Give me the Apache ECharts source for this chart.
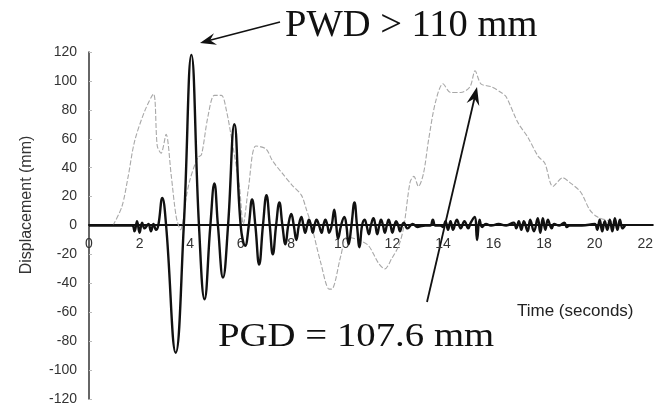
<!DOCTYPE html>
<html>
<head>
<meta charset="utf-8">
<script src="https://cdn.jsdelivr.net/npm/echarts@6/dist/echarts.min.js"></script>
<style>
html,body{margin:0;padding:0;background:#fff;}
#chart{width:656px;height:406px;}
</style>
</head>
<body>
<div id="chart"></div>
<script>
// PWD (thick black) – time (s) and displacement (mm)
const pwdTime = [0, 1.7, 1.8, 1.9, 2.0, 2.1, 2.2, 2.35, 2.45, 2.55, 2.65, 2.74, 2.9, 3.05, 3.43, 3.75, 4.05, 4.35, 4.57, 4.8, 4.96, 5.1, 5.3, 5.5, 5.75, 6.0, 6.18, 6.32, 6.45, 6.58, 6.73, 6.88, 7.02, 7.15, 7.27, 7.4, 7.53, 7.65, 7.77, 7.88, 8.0, 8.1, 8.2, 8.3, 8.4, 8.48, 8.55, 8.63, 8.7, 8.78, 8.85, 8.92, 9.0, 9.1, 9.2, 9.27, 9.35, 9.43, 9.5, 9.6, 9.7, 9.78, 9.85, 9.97, 10.1, 10.18, 10.27, 10.38, 10.5, 10.6, 10.7, 10.8, 10.9, 10.98, 11.07, 11.15, 11.25, 11.33, 11.4, 11.48, 11.55, 11.63, 11.7, 11.78, 11.85, 11.93, 12.0, 12.08, 12.15, 12.23, 12.3, 12.38, 12.45, 12.6, 12.8, 13.0, 13.3, 13.5, 13.6, 13.7, 13.9, 14.0, 14.1, 14.2, 14.3, 14.4, 14.55, 14.7, 14.85, 15.0, 15.1, 15.25, 15.35, 15.45, 15.55, 15.7, 15.9, 16.2, 16.5, 16.8, 16.9, 17.0, 17.1, 17.2, 17.35, 17.45, 17.6, 17.75, 17.85, 17.95, 18.05, 18.15, 18.3, 18.4, 18.6, 18.8, 18.9, 19.0, 19.5, 20.0, 20.1, 20.2, 20.3, 20.4, 20.5, 20.6, 20.7, 20.8, 20.9, 21.0, 21.1, 21.2];
const pwdDisp = [0, 0, -4, 3, -5, 2, -2, 1, -4, 1, -3, 0, 19, 0, -88, 0, 118, 0, -51, 0, 29, 0, -36, 0, 70, 0, -14, 0, 18, 0, -27, 0, 21, 0, -20, 0, 16, 0, -13, 0, 8, 0, -10, 0, 6, 0, -5, 0, 4, 0, -5, 0, 4, 0, -5, 0, 4, 0, -5, 0, 11, 0, -9, 0, 6, 0, -13, 0, 16, 0, -15, 0, 4, 0, -6, 0, 5, 0, -6, 0, 4, 0, -5, 0, 4, 0, -5, 0, 3, 0, -4, 0, 2, -2, 1, -1, 0, 0, 4, 0, 0, -1, 3, -3, 3, -3, 4, -2, 3, -2, 2, 6, -10, 4, -1, 1, 0, 1, 0, 2, -2, 3, -3, 3, -4, 4, -4, 5, -5, 5, -3, 4, -2, 1, 0, 2, -1, 0, 0, 1, -3, 4, -4, 3, -3, 4, -4, 5, -3, 4, -2, 0];

// PGD (thin gray) – time (s) and displacement (mm)
const pgdTime = [0.95, 1.3, 1.55, 1.8, 2.2, 2.55, 2.7, 2.85, 3.05, 3.25, 3.45, 3.62, 3.85, 4.0, 4.3, 4.45, 4.7, 4.96, 5.24, 5.43, 5.67, 5.95, 6.1, 6.3, 6.6, 7.0, 7.25, 7.65, 8.03, 8.4, 8.6, 8.8, 9.17, 9.5, 9.6, 9.96, 10.2, 10.67, 11.06, 11.45, 11.7, 11.97, 12.25, 12.45, 12.7, 12.85, 13.03, 13.23, 13.43, 13.7, 14.0, 14.3, 14.7, 15.07, 15.27, 15.5, 15.9, 16.3, 16.5, 16.97, 17.36, 17.76, 18.03, 18.35, 18.74, 19.0, 19.45, 19.8, 20.1, 20.6, 20.98];
const pgdDisp = [0, 13, 34, 58, 79, 91, 55, 50, 63, 35, 6, -3, 20, 32, 47, 49, 75, 90, 90, 80, 57, 27, 1, 25, 55, 53, 45, 36, 28, 21, 11, 0, -26, -44, -44, -21, -8, -10, -14, -26, -30, -23, -14, -1, 30, 34, 27, 36, 59, 85, 98, 92, 92, 96, 107, 98, 96, 92, 89, 71, 61, 48, 43, 27, 33, 30, 23, 11, 6, 3, 0];

const xTickStep = 2;
const yTickStep = 20;

const pwd = pwdTime.map((t, i) => [t, pwdDisp[i]]);
const pgd = pgdTime.map((t, i) => [t, pgdDisp[i]]);

const chart = echarts.init(document.getElementById('chart'));
const sans = 'Liberation Sans, Arial, sans-serif';
const serif = 'Liberation Serif, Times New Roman, serif';

function arrowHead(tx, ty, sx, sy, len, half) {
  const dx = tx - sx, dy = ty - sy, L = Math.hypot(dx, dy);
  const ux = dx / L, uy = dy / L, nx = -uy, ny = ux;
  const bx = tx - ux * len, by = ty - uy * len;
  const ix = tx - ux * len * 0.65, iy = ty - uy * len * 0.65;
  return [[tx, ty], [bx + nx * half, by + ny * half], [ix, iy], [bx - nx * half, by - ny * half]];
}

chart.setOption({
  animation: false,
  backgroundColor: '#fff',
  grid: { left: 89, right: 0, top: 52, bottom: 5, containLabel: false },
  xAxis: {
    type: 'value', min: 0, max: 22.3, interval: xTickStep,
    position: 'bottom', offset: -174.5,
    axisLine: { onZero: false, lineStyle: { color: '#111', width: 2 } },
    axisTick: { show: false },
    splitLine: { show: false },
    axisLabel: { color: '#333', fontSize: 14, fontFamily: sans, margin: 13, showMaxLabel: false }
  },
  yAxis: {
    type: 'value', min: -120, max: 120, interval: yTickStep,
    axisLine: { show: true, onZero: false, lineStyle: { color: '#333', width: 1.5 } },
    axisTick: { show: true, inside: true, length: 3, lineStyle: { color: '#bbb' } },
    splitLine: { show: false },
    axisLabel: { color: '#333', fontSize: 14, fontFamily: sans, margin: 12 }
  },
  series: [
    {
      name: 'PGD', type: 'line', data: pgd, showSymbol: false, smooth: 0.3,
      lineStyle: { color: '#a8a8a8', width: 1.1, type: [5, 2] }, z: 2
    },
    {
      name: 'PWD', type: 'line', data: pwd, showSymbol: false, smooth: 0.45,
      lineStyle: { color: '#111', width: 2.4 }, z: 3
    }
  ],
  graphic: [
    { type: 'text', x: 27, y: 205, rotation: Math.PI / 2,
      style: { text: 'Displacement (mm)', font: '16px ' + sans, fill: '#333', align: 'center', verticalAlign: 'middle' } },
    { type: 'text', x: 517, y: 311,
      style: { text: 'Time (seconds)', font: '17px ' + sans, fill: '#222', align: 'left', verticalAlign: 'middle' } },
    { type: 'text', x: 285, y: 26,
      style: { text: 'PWD > 110 mm', font: '38.5px ' + serif, fill: '#111', align: 'left', verticalAlign: 'middle' } },
    { type: 'text', x: 218, y: 337, scaleY: 0.88,
      style: { text: 'PGD = 107.6 mm', font: '38.8px ' + serif, fill: '#111', align: 'left', verticalAlign: 'middle' } },
    { type: 'line', shape: { x1: 280, y1: 22, x2: 207, y2: 41 }, style: { stroke: '#111', lineWidth: 1.6 } },
    { type: 'polygon', shape: { points: arrowHead(200, 43, 280, 22, 16, 6) }, style: { fill: '#111' } },
    { type: 'line', shape: { x1: 427, y1: 302, x2: 475, y2: 96 }, style: { stroke: '#111', lineWidth: 1.8 } },
    { type: 'polygon', shape: { points: arrowHead(477, 87, 427, 302, 18, 6.5) }, style: { fill: '#111' } }
  ]
});
</script>
</body>
</html>
